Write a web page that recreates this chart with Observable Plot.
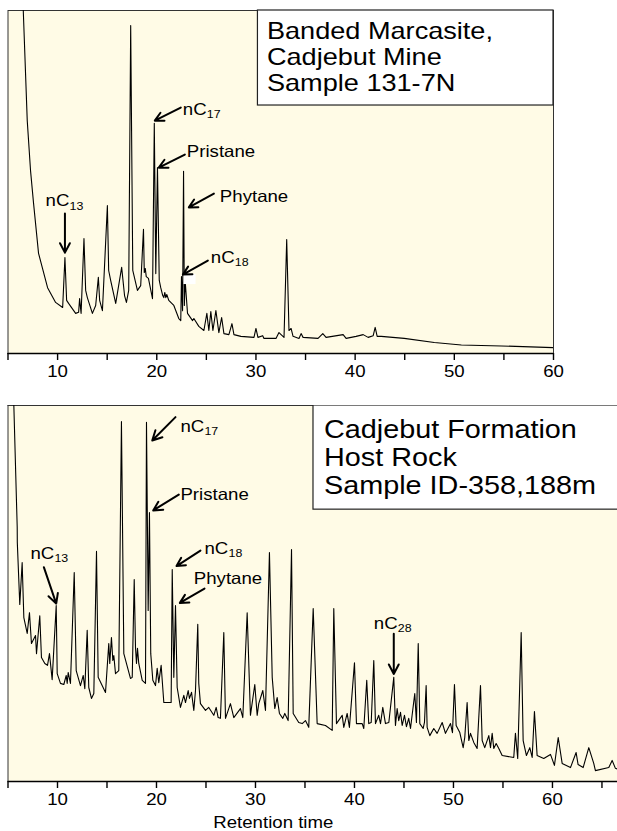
<!DOCTYPE html>
<html>
<head>
<meta charset="utf-8">
<script src="https://cdn.jsdelivr.net/npm/d3@7"></script>
<script src="https://cdn.jsdelivr.net/npm/@observablehq/plot@0.6"></script>
<style>
  html, body { margin: 0; padding: 0; background: #ffffff; }
  #chart { position: relative; width: 617px; height: 831px; overflow: hidden; }
  #chart svg { position: absolute; left: 0; }
</style>
</head>
<body>
<div id="chart"></div>
<script>
// ---------------- DATA ----------------
// Upper chromatogram: Banded Marcasite, Cadjebut Mine (retention time, relative signal %)
const topTime = [6.31,6.54,6.94,7.27,7.58,8.08,8.99,9.80,10.51,10.74,10.91,11.11,11.82,12.12,12.22,12.37,12.66,12.83,13.0,13.51,13.84,14.11,14.24,14.52,15.02,15.15,15.35,15.86,16.46,16.75,16.94,17.17,17.37,17.58,18.05,18.38,18.66,18.74,18.84,18.94,19.16,19.57,19.75,19.90,20.07,20.25,20.40,20.60,20.71,20.81,20.91,21.01,21.21,21.72,22.22,22.42,22.49,22.60,22.70,22.78,22.86,23.10,23.61,23.74,24.24,24.75,25.05,25.25,25.45,25.66,25.96,26.26,26.54,26.77,27.27,27.58,27.78,28.48,29.80,30.0,30.20,30.68,30.81,32.02,32.32,32.83,33.10,33.33,33.54,33.74,34.34,34.55,34.75,36.26,36.74,37.07,38.79,39.09,40.10,40.81,41.31,41.82,42.02,42.22,42.63,44.95,47.98,50.71,54.75,60.0];
const topSignal = [114.6,100,67.9,53.4,43.7,29.2,19.2,14.9,13.4,28.0,15.5,14.6,11.7,12.0,16.0,11.7,33.5,18.4,16.3,11.7,14.0,22.2,15.5,12.5,43.1,24.2,21.3,14.6,25.1,16.9,14.9,18.4,95.6,24.2,18.4,19.8,36.2,23.6,24.8,22.4,21.9,16.0,67.1,23.3,54.2,21.3,19.2,16.9,16.3,17.8,16.3,17.2,15.5,14.0,10.2,9.6,22.4,12.5,53.1,14.0,21.3,11.7,9.6,10.2,7.9,6.7,11.7,6.7,12.2,6.7,12.5,6.1,10.5,5.8,5.5,8.7,5.5,5.0,4.7,7.3,4.7,5.2,4.4,4.4,6.1,4.7,33.2,6.7,7.3,5.0,4.4,5.8,4.7,4.4,5.8,4.7,5.5,4.4,5.0,5.5,4.7,5.2,7.6,5.0,5.0,4.4,3.2,2.5,2.2,1.7];

// Lower chromatogram: Cadjebut Formation host rock
const botTime = [5.52,5.59,5.93,5.94,6.19,6.43,6.60,6.94,7.17,7.37,7.78,7.88,8.21,8.38,8.72,8.99,9.19,9.46,9.87,9.97,10.30,10.64,10.88,10.98,11.08,11.31,11.69,11.89,12.32,12.60,12.76,13.0,13.16,13.43,13.67,13.94,14.11,14.85,15.18,15.28,15.45,15.59,15.69,15.86,16.19,16.46,16.70,17.37,17.55,17.75,17.88,17.98,18.08,18.21,18.56,18.89,18.99,19.16,19.29,19.42,19.63,19.90,20.07,20.23,20.47,20.74,21.48,21.59,21.75,21.92,22.09,22.42,22.76,22.93,23.20,23.33,23.54,23.77,23.94,24.17,24.27,24.44,24.95,25.28,25.79,26.03,26.23,26.46,26.80,26.97,27.47,27.81,28.48,28.72,29.16,29.49,29.93,30.17,30.33,30.74,31.01,31.41,31.69,31.95,32.19,32.42,32.76,32.96,33.30,33.64,33.81,34.37,34.72,35.05,35.38,35.83,36.23,37.07,37.75,37.91,38.18,38.76,38.92,39.26,39.49,40.0,40.20,40.78,40.94,41.24,41.44,41.69,41.95,42.12,42.45,42.63,42.86,43.13,43.47,43.97,44.14,44.31,44.47,44.65,44.82,45.05,45.25,45.48,45.66,46.09,46.26,46.44,46.60,46.94,47.07,47.24,47.34,47.61,48.01,48.35,48.86,49.19,49.70,49.90,50.10,50.27,50.64,50.98,51.14,51.38,51.55,51.72,52.05,52.39,52.73,52.90,53.16,53.57,53.74,53.91,54.07,54.31,54.58,54.92,56.09,56.26,56.49,56.84,57.04,57.37,57.71,57.95,58.18,58.45,59.12,59.80,60.20,60.58,60.98,61.82,62.39,62.59,63.10,63.67,64.17,64.34,65.69,66.03,66.36,66.66];
const botSignal = [106.6,100,67.6,63.6,47.1,58.2,43.6,39.4,44.9,36.7,38.8,34.0,44.1,33.0,31.4,30.9,34.0,27.1,46.8,28.7,26.1,25.8,28.2,26.1,29.0,26.1,55.6,29.5,25.5,28.2,24.7,40.2,25.0,22.1,23.4,61.2,27.7,23.7,36.7,31.4,38.3,32.2,33.5,28.7,29.5,95.7,34.0,27.4,27.7,53.7,35.6,31.4,35.4,31.4,26.9,26.1,95.5,45.5,71.5,34.0,26.9,25.5,30.1,26.3,30.9,21.0,21.0,56.4,27.7,46.8,25.0,19.7,22.9,21.0,24.2,22.1,23.7,18.9,24.2,41.8,26.1,20.7,18.9,19.7,17.6,19.7,17.0,16.8,39.6,16.8,20.7,17.0,19.4,17.0,44.9,17.6,25.8,17.6,20.7,24.2,18.9,60.9,27.7,19.4,22.3,18.1,16.8,18.1,16.2,61.7,18.1,15.7,15.4,16.2,14.4,46.0,15.4,14.9,13.6,46.0,15.4,17.6,14.4,18.1,14.4,31.6,15.4,15.4,14.1,26.9,15.4,15.7,32.2,15.4,17.6,15.4,19.7,15.4,15.7,27.7,14.9,19.4,16.2,18.4,14.9,17.6,14.6,16.8,14.1,23.4,15.7,36.7,15.4,14.1,15.7,25.5,14.4,12.2,14.1,12.8,15.7,12.8,15.4,13.0,25.8,14.9,13.0,9.0,11.7,21.0,10.9,12.8,10.4,8.8,25.5,10.9,9.0,12.2,9.0,12.8,8.8,10.1,8.8,6.9,6.4,12.8,6.1,39.6,10.9,6.9,9.0,6.4,18.6,6.9,6.1,7.2,4.3,11.7,4.8,3.7,7.7,4.5,3.7,9.0,4.8,2.9,3.7,5.6,3.5,3.2];

// Axis ticks
const topTicks = [5,10,15,20,25,30,35,40,45,50,55,60];
const botTicks = [5,10,15,20,25,30,35,40,45,50,55,60,65];
const xTitle = "Retention time";

// Sample boxes
const topSample = "Banded Marcasite,\nCadjebut Mine\nSample 131-7N";
const botSample = "Cadjebut Formation\nHost Rock\nSample ID-358,188m";

// Peak labels: main text, subscript, label anchor (time, signal), arrow tail and head
const topLabel = ["nC", "nC", "Pristane", "Phytane", "nC"];
const topSub   = ["13", "17", "", "", "18"];
const topLabelX = [8.79, 22.63, 23.03, 26.36, 25.45];
const topLabelY = [44.4, 71.2, 58.7, 45.7, 27.8];
const topArrX1 = [10.74, 22.42, 22.83, 25.76, 25.15];
const topArrY1 = [40.8, 71.7, 58.0, 46.6, 27.1];
const topArrX2 = [10.74, 19.80, 20.20, 23.23, 22.63];
const topArrY2 = [29.4, 67.9, 54.2, 42.6, 23.0];

const botLabel = ["nC", "nC", "Pristane", "nC", "Phytane", "nC"];
const botSub   = ["13", "17", "", "18", "", "28"];
const botLabelX = [7.27, 22.42, 22.42, 24.85, 23.77, 41.95];
const botLabelY = [60.7, 94.3, 76.3, 62.0, 54.0, 42.0];
const botArrX1 = [8.62, 21.92, 22.25, 24.44, 24.85, 43.97];
const botArrY1 = [57.0, 96.9, 76.3, 61.4, 51.3, 39.3];
const botArrX2 = [9.87, 19.57, 19.67, 22.02, 22.36, 43.97];
const botArrY2 = [47.3, 90.7, 72.1, 57.3, 47.5, 28.6];

// ---------------- DRAWING ----------------
const FONT = "'Liberation Sans', Arial, Helvetica, sans-serif";
const BG = "#fffbe6";
const STRETCH = 1.13;

const zip = (xs, ys) => xs.map((x, i) => ({x, y: ys[i]}));
const fmt = d => d % 10 === 0 ? String(d) : "";

function labelMarks(label, sub, lx, ly, ax1, ay1, ax2, ay2) {
  const labels = label.map((t, i) => ({t, s: sub[i], x: lx[i], y: ly[i]}));
  const arrows = ax1.map((x1, i) => ({x1, y1: ay1[i], x2: ax2[i], y2: ay2[i]}));
  return [
    Plot.arrow(arrows, {x1: "x1", y1: "y1", x2: "x2", y2: "y2", stroke: "black", strokeWidth: 2, headLength: 8, headAngle: 55}),
    Plot.text(labels, {x: "x", y: "y", text: "t", textAnchor: "start", lineAnchor: "middle", fontSize: 16.5, fill: "black"}),
    Plot.text(labels.filter(d => d.s), {x: "x", y: "y", text: "s", textAnchor: "start", lineAnchor: "middle", fontSize: 11, dx: 24, dy: 4.8, fill: "black"})
  ];
}

function stretch(svg) {
  svg.querySelectorAll("text").forEach(el => {
    const xa = el.getAttribute("x");
    if (xa && parseFloat(xa) !== 0) return;
    const tr = el.getAttribute("transform");
    el.setAttribute("transform", (tr ? tr + " " : "") + `scale(${STRETCH},1)`);
  });
}

const chart = document.getElementById("chart");

// Upper panel
const topPlot = Plot.plot({
  width: 617, height: 390,
  marginLeft: 7.5, marginRight: 64, marginTop: 10, marginBottom: 37,
  style: {fontFamily: FONT, fontSize: "16.5px", color: "black", background: "transparent"},
  x: {domain: [5, 60]},
  y: {domain: [0, 100], axis: null},
  marks: [
    Plot.frame({fill: BG, stroke: "#333", strokeWidth: 1}),
    Plot.line(zip(topTime, topSignal), {x: "x", y: "y", stroke: "black", strokeWidth: 1.1, clip: true}),
    Plot.rect([{x1: 22.74, x2: 23.96, y1: 20.1, y2: 23.0}], {x1: "x1", x2: "x2", y1: "y1", y2: "y2", fill: "white"}),
    ...labelMarks(topLabel, topSub, topLabelX, topLabelY, topArrX1, topArrY1, topArrX2, topArrY2),
    Plot.rect([{x1: 30.2, x2: 60, y1: 72.3, y2: 100}], {x1: "x1", x2: "x2", y1: "y1", y2: "y2", fill: "white", stroke: "#222", strokeWidth: 1.2}),
    Plot.text([{t: topSample, x: 31.11, y: 97.2}], {x: "x", y: "y", text: "t", textAnchor: "start", lineAnchor: "top", lineHeight: 1.096, fontSize: 24, fill: "black"}),
    Plot.ruleY([0], {stroke: "black", strokeWidth: 1.5}),
    Plot.axisX({ticks: topTicks, tickSize: 7, tickPadding: 5, tickFormat: fmt, fontSize: 16.5, strokeWidth: 1.4, label: null, fill: "black", stroke: "black"})
  ]
});
topPlot.style.top = "0px";
chart.appendChild(topPlot);
stretch(topPlot);

// Lower panel
const botPlot = Plot.plot({
  width: 617, height: 441,
  marginLeft: 7.5, marginRight: 0, marginTop: 15, marginBottom: 50,
  style: {fontFamily: FONT, fontSize: "16.5px", color: "black", background: "transparent"},
  x: {domain: [5, 66.57]},
  y: {domain: [0, 100], axis: null},
  marks: [
    Plot.frame({fill: BG, stroke: null}),
    Plot.ruleX([5], {stroke: "#333", strokeWidth: 1}),
    Plot.ruleY([100], {stroke: "#333", strokeWidth: 1}),
    Plot.line(zip(botTime, botSignal), {x: "x", y: "y", stroke: "black", strokeWidth: 1.1, clip: true}),
    ...labelMarks(botLabel, botSub, botLabelX, botLabelY, botArrX1, botArrY1, botArrX2, botArrY2),
    Plot.rect([{x1: 35.86, x2: 68, y1: 72.3, y2: 100}], {x1: "x1", x2: "x2", y1: "y1", y2: "y2", fill: "white", stroke: "#222", strokeWidth: 1.2, clip: true}),
    Plot.text([{t: botSample, x: 36.92, y: 96.8}], {x: "x", y: "y", text: "t", textAnchor: "start", lineAnchor: "top", lineHeight: 1.11, fontSize: 25.5, fill: "black"}),
    Plot.ruleY([0], {stroke: "black", strokeWidth: 1.5}),
    Plot.axisX({ticks: botTicks, tickSize: 7, tickPadding: 5, tickFormat: fmt, fontSize: 16.5, strokeWidth: 1.4, label: null, fill: "black", stroke: "black"}),
    Plot.text([{t: xTitle, x: 31.8}], {x: "x", text: "t", frameAnchor: "bottom", dy: 41, lineAnchor: "middle", fontSize: 16.5, fill: "black"})
  ]
});
botPlot.style.top = "390px";
chart.appendChild(botPlot);
stretch(botPlot);
</script>
</body>
</html>
